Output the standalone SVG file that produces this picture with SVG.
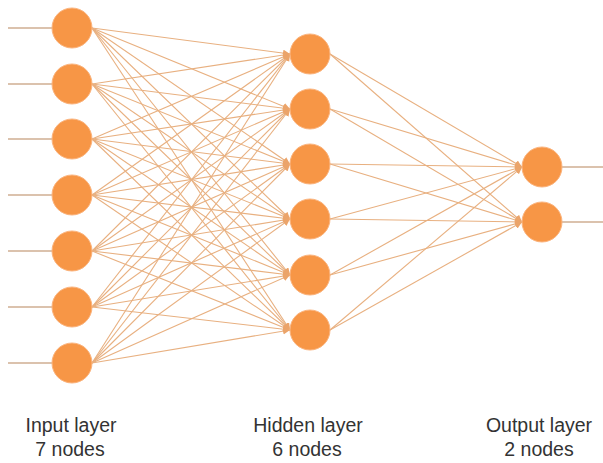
<svg xmlns="http://www.w3.org/2000/svg" width="603" height="463" viewBox="0 0 603 463">
<defs>
<style>
.node{fill:#F79646;stroke:#FBB47E;stroke-width:1}
.c{stroke:#E8B080;stroke-width:1.1;fill:none;marker-end:url(#ah)}
.io{stroke:#CFAE92;stroke-width:1.3;fill:none}
.lbl{font-family:"Liberation Sans",Arial,sans-serif;font-size:19.5px;fill:#333333;text-anchor:middle}
</style>
<marker id="ah" markerUnits="userSpaceOnUse" markerWidth="8" markerHeight="8" refX="7" refY="3.5" orient="auto">
<path d="M0,0 L7,3.5 L0,7 Z" fill="#EBA46A"/>
</marker>
</defs>
<rect width="603" height="463" fill="#ffffff"/>
<g id="connectors">
<g id="inputs-in">
<line class="io" x1="8" y1="28" x2="52" y2="28"/>
<line class="io" x1="8" y1="84" x2="52" y2="84"/>
<line class="io" x1="8" y1="139" x2="52" y2="139"/>
<line class="io" x1="8" y1="195" x2="52" y2="195"/>
<line class="io" x1="8" y1="251" x2="52" y2="251"/>
<line class="io" x1="8" y1="307" x2="52" y2="307"/>
<line class="io" x1="8" y1="363" x2="52" y2="363"/>
</g>
<g id="input-hidden">
<line class="c" x1="92" y1="28" x2="290" y2="54"/>
<line class="c" x1="92" y1="28" x2="290" y2="109"/>
<line class="c" x1="92" y1="28" x2="290" y2="164"/>
<line class="c" x1="92" y1="28" x2="290" y2="219"/>
<line class="c" x1="92" y1="28" x2="290" y2="275"/>
<line class="c" x1="92" y1="28" x2="290" y2="330"/>
<line class="c" x1="92" y1="84" x2="290" y2="54"/>
<line class="c" x1="92" y1="84" x2="290" y2="109"/>
<line class="c" x1="92" y1="84" x2="290" y2="164"/>
<line class="c" x1="92" y1="84" x2="290" y2="219"/>
<line class="c" x1="92" y1="84" x2="290" y2="275"/>
<line class="c" x1="92" y1="84" x2="290" y2="330"/>
<line class="c" x1="92" y1="139" x2="290" y2="54"/>
<line class="c" x1="92" y1="139" x2="290" y2="109"/>
<line class="c" x1="92" y1="139" x2="290" y2="164"/>
<line class="c" x1="92" y1="139" x2="290" y2="219"/>
<line class="c" x1="92" y1="139" x2="290" y2="275"/>
<line class="c" x1="92" y1="139" x2="290" y2="330"/>
<line class="c" x1="92" y1="195" x2="290" y2="54"/>
<line class="c" x1="92" y1="195" x2="290" y2="109"/>
<line class="c" x1="92" y1="195" x2="290" y2="164"/>
<line class="c" x1="92" y1="195" x2="290" y2="219"/>
<line class="c" x1="92" y1="195" x2="290" y2="275"/>
<line class="c" x1="92" y1="195" x2="290" y2="330"/>
<line class="c" x1="92" y1="251" x2="290" y2="54"/>
<line class="c" x1="92" y1="251" x2="290" y2="109"/>
<line class="c" x1="92" y1="251" x2="290" y2="164"/>
<line class="c" x1="92" y1="251" x2="290" y2="219"/>
<line class="c" x1="92" y1="251" x2="290" y2="275"/>
<line class="c" x1="92" y1="251" x2="290" y2="330"/>
<line class="c" x1="92" y1="307" x2="290" y2="54"/>
<line class="c" x1="92" y1="307" x2="290" y2="109"/>
<line class="c" x1="92" y1="307" x2="290" y2="164"/>
<line class="c" x1="92" y1="307" x2="290" y2="219"/>
<line class="c" x1="92" y1="307" x2="290" y2="275"/>
<line class="c" x1="92" y1="307" x2="290" y2="330"/>
<line class="c" x1="92" y1="363" x2="290" y2="54"/>
<line class="c" x1="92" y1="363" x2="290" y2="109"/>
<line class="c" x1="92" y1="363" x2="290" y2="164"/>
<line class="c" x1="92" y1="363" x2="290" y2="219"/>
<line class="c" x1="92" y1="363" x2="290" y2="275"/>
<line class="c" x1="92" y1="363" x2="290" y2="330"/>
</g>
<g id="hidden-output">
<line class="c" x1="330" y1="54" x2="522" y2="167"/>
<line class="c" x1="330" y1="54" x2="522" y2="222"/>
<line class="c" x1="330" y1="109" x2="522" y2="167"/>
<line class="c" x1="330" y1="109" x2="522" y2="222"/>
<line class="c" x1="330" y1="164" x2="522" y2="167"/>
<line class="c" x1="330" y1="164" x2="522" y2="222"/>
<line class="c" x1="330" y1="219" x2="522" y2="167"/>
<line class="c" x1="330" y1="219" x2="522" y2="222"/>
<line class="c" x1="330" y1="275" x2="522" y2="167"/>
<line class="c" x1="330" y1="275" x2="522" y2="222"/>
<line class="c" x1="330" y1="330" x2="522" y2="167"/>
<line class="c" x1="330" y1="330" x2="522" y2="222"/>
</g>
<g id="outputs-out">
<line class="io" x1="562" y1="167" x2="603" y2="167"/>
<line class="io" x1="562" y1="222" x2="603" y2="222"/>
</g>
</g>
<g id="in1"><circle class="node" cx="72" cy="28" r="20"/></g>
<g id="in2"><circle class="node" cx="72" cy="84" r="20"/></g>
<g id="in3"><circle class="node" cx="72" cy="139" r="20"/></g>
<g id="in4"><circle class="node" cx="72" cy="195" r="20"/></g>
<g id="in5"><circle class="node" cx="72" cy="251" r="20"/></g>
<g id="in6"><circle class="node" cx="72" cy="307" r="20"/></g>
<g id="in7"><circle class="node" cx="72" cy="363" r="20"/></g>
<g id="h1"><circle class="node" cx="310" cy="54" r="20"/></g>
<g id="h2"><circle class="node" cx="310" cy="109" r="20"/></g>
<g id="h3"><circle class="node" cx="310" cy="164" r="20"/></g>
<g id="h4"><circle class="node" cx="310" cy="219" r="20"/></g>
<g id="h5"><circle class="node" cx="310" cy="275" r="20"/></g>
<g id="h6"><circle class="node" cx="310" cy="330" r="20"/></g>
<g id="o1"><circle class="node" cx="542" cy="167" r="20"/></g>
<g id="o2"><circle class="node" cx="542" cy="222" r="20"/></g>
<g id="labels">
<text class="lbl" x="71" y="432">Input layer</text>
<text class="lbl" x="70" y="456">7 nodes</text>
<text class="lbl" x="308" y="432">Hidden layer</text>
<text class="lbl" x="307" y="456">6 nodes</text>
<text class="lbl" x="539" y="432">Output layer</text>
<text class="lbl" x="539" y="456">2 nodes</text>
</g>
</svg>
